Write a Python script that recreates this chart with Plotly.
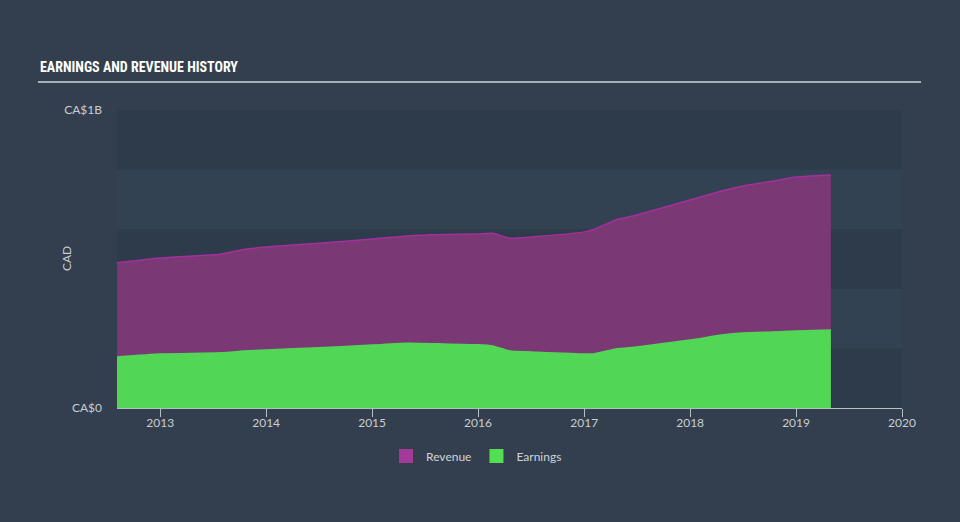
import plotly.graph_objects as go

dates = ["2012-08-05", "2013-01-01", "2013-08-01", "2013-10-15", "2014-01-01", "2014-07-01",
         "2015-01-01", "2015-05-01", "2015-09-01", "2016-01-01", "2016-02-20", "2016-04-20",
         "2016-07-01", "2017-01-01", "2017-02-05", "2017-04-20", "2017-07-01", "2018-01-01",
         "2018-04-20", "2018-07-01", "2018-10-15", "2019-01-01", "2019-05-01"]
revenue = [0.487, 0.503, 0.517, 0.532, 0.540, 0.553,
           0.567, 0.577, 0.582, 0.584, 0.586, 0.570,
           0.574, 0.591, 0.600, 0.631, 0.648, 0.698,
           0.728, 0.745, 0.762, 0.775, 0.782]
earnings = [0.171, 0.181, 0.185, 0.191, 0.195, 0.202,
            0.211, 0.217, 0.215, 0.212, 0.208, 0.191,
            0.188, 0.181, 0.182, 0.198, 0.205, 0.228,
            0.245, 0.252, 0.255, 0.258, 0.262]
revenue = [v * 1e9 for v in revenue]
earnings = [v * 1e9 for v in earnings]

y_ticks = [0, 1e9]
y_labels = ["CA$0", "CA$1B"]
x_ticks = ["2013-01-01", "2014-01-01", "2015-01-01", "2016-01-01", "2017-01-01",
           "2018-01-01", "2019-01-01", "2020-01-01"]
x_labels = ["2013", "2014", "2015", "2016", "2017", "2018", "2019", "2020"]

rev_fill, rev_line, rev_legend = "#7a3875", "#a4309c", "#a33a98"
ear_fill, ear_legend = "#52d655", "#52e052"

fig = go.Figure()
fig.add_trace(go.Scatter(x=dates, y=revenue, name="Revenue", mode="lines", showlegend=False,
                         line=dict(color=rev_line, width=1.5, shape="spline", smoothing=0.5),
                         fill="tozeroy", fillcolor=rev_fill))
fig.add_trace(go.Scatter(x=dates, y=earnings, name="Earnings", mode="lines", showlegend=False,
                         line=dict(color=ear_fill, width=1.5, shape="spline", smoothing=0.5),
                         fill="tozeroy", fillcolor=ear_fill))
fig.add_trace(go.Scatter(x=[None], y=[None], name="Revenue", mode="markers",
                         marker=dict(symbol="square", size=14, color=rev_legend)))
fig.add_trace(go.Scatter(x=[None], y=[None], name="Earnings", mode="markers",
                         marker=dict(symbol="square", size=14, color=ear_legend)))

band_colors = ["#2d3b4a", "#334252", "#2d3b4a", "#334252", "#2d3b4a"]
shapes = []
for i, c in enumerate(band_colors):
    shapes.append(dict(type="rect", xref="paper", yref="y", x0=0, x1=1,
                       y0=i * 0.2e9, y1=(i + 1) * 0.2e9, fillcolor=c, line=dict(width=0),
                       layer="below"))
shapes.append(dict(type="line", xref="paper", yref="paper", x0=-0.1007, x1=1.0242,
                   y0=1.094, y1=1.094, line=dict(color="#a9b0b8", width=2)))

tick_font = dict(family="Lato, Roboto, sans-serif", size=12, color="#c8cdd2")
fig.update_layout(
    width=960, height=522,
    margin=dict(l=117, r=58, t=110, b=114),
    paper_bgcolor="#333f4e", plot_bgcolor="#333f4e",
    shapes=shapes,
    font=dict(family="Lato, Roboto, sans-serif", color="#c8cdd2", size=12),
    annotations=[
        dict(text="<b>EARNINGS AND REVENUE HISTORY</b>", xref="paper", yref="paper",
             x=-0.1007, y=1.11, xanchor="left", yanchor="bottom", showarrow=False,
             font=dict(family="Roboto Condensed, DejaVu Sans Condensed, Roboto, sans-serif", size=14, color="#ffffff")),
        dict(text="CAD", xref="paper", yref="paper", x=-0.0649, y=0.5, xanchor="center", yanchor="middle",
             textangle=-90, showarrow=False, font=dict(family="Lato, Roboto, sans-serif", size=12, color="#c8cdd2")),
    ],
    xaxis=dict(type="date", range=["2012-08-05", "2020-01-01"], tickvals=x_ticks, ticktext=x_labels,
               showgrid=False, zeroline=False, showline=True, linecolor="#b8bec6", linewidth=1,
               ticks="outside", ticklen=8, tickcolor="#b8bec6", ticklabelstandoff=-4, tickfont=tick_font),
    yaxis=dict(range=[0, 1e9], tickvals=y_ticks, ticktext=y_labels, showgrid=False, zeroline=False,
               showline=False, ticks="", ticklabelstandoff=14, tickfont=tick_font),
    legend=dict(orientation="h", x=0.458, xanchor="center", y=-0.112, yanchor="top",
                font=dict(family="Lato, Roboto, sans-serif", size=12, color="#d0d4d8"),
                bgcolor="rgba(0,0,0,0)", itemwidth=30),
    showlegend=True,
)
fig.write_html("out.html")
